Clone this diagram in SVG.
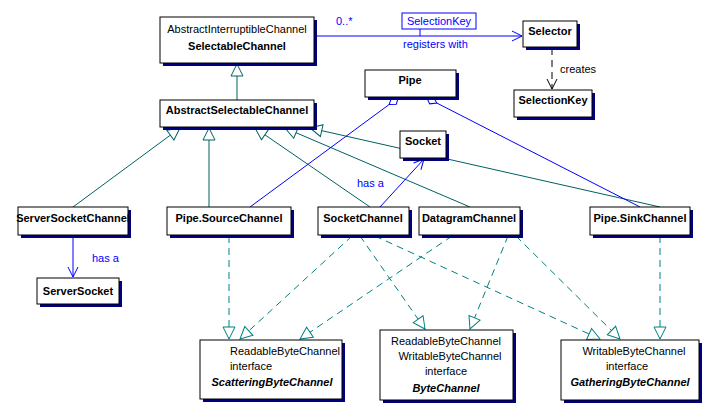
<svg xmlns="http://www.w3.org/2000/svg" width="712" height="419" viewBox="0 0 712 419">
<style>
text{font-family:"Liberation Sans",Arial,sans-serif;font-size:11px;fill:#000}
.b{font-weight:bold}.bi{font-weight:bold;font-style:italic}
.box{fill:#fff;stroke:#000;stroke-width:1}
.sh{fill:#000080}
.g{stroke:#006060;fill:none}
.r{stroke:#008080;fill:none;stroke-dasharray:7,5}
.a{stroke:#0000ff;fill:none}
.bl{fill:#0000ff}
</style>
<defs>
<marker id="tri" markerWidth="14" markerHeight="14" refX="13" refY="7" orient="auto" markerUnits="userSpaceOnUse"><path d="M1,1 L13,7 L1,13 Z" fill="#fff" stroke="#006060"/></marker>
<marker id="trid" markerWidth="14" markerHeight="14" refX="13" refY="7" orient="auto" markerUnits="userSpaceOnUse"><path d="M1,1 L13,7 L1,13 Z" fill="#fff" stroke="#008080"/></marker>
<marker id="opb" markerWidth="12" markerHeight="12" refX="11" refY="6" orient="auto" markerUnits="userSpaceOnUse"><path d="M1,1 L11,6 L1,11" fill="none" stroke="#0000ff"/></marker>
<marker id="opk" markerWidth="12" markerHeight="12" refX="11" refY="6" orient="auto" markerUnits="userSpaceOnUse"><path d="M1,1 L11,6 L1,11" fill="none" stroke="#000"/></marker>
<marker id="dia" markerWidth="14" markerHeight="10" refX="1" refY="5" orient="auto" markerUnits="userSpaceOnUse"><path d="M1,5 L6,1 L12,5 L6,9 Z" fill="#fff" stroke="#0000ff"/></marker>
</defs>
<g id="connectors">
<path class="g" d="M237,100 V64" marker-end="url(#tri)"/>
<path class="g" d="M73,207 L180,128" marker-end="url(#tri)"/>
<path class="g" d="M209,207 V128" marker-end="url(#tri)"/>
<path class="g" d="M370,207 L255,128" marker-end="url(#tri)"/>
<path class="g" d="M470,207 L285,128" marker-end="url(#tri)"/>
<path class="g" d="M660,207 L310,128" marker-end="url(#tri)"/>
<path class="r" d="M229,236 V339" marker-end="url(#trid)"/>
<path class="r" d="M352,236 L240,339" marker-end="url(#trid)"/>
<path class="r" d="M360,236 L425,329" marker-end="url(#trid)"/>
<path class="r" d="M375,236 L600,339" marker-end="url(#trid)"/>
<path class="r" d="M452,236 L300,339" marker-end="url(#trid)"/>
<path class="r" d="M508,236 L470,329" marker-end="url(#trid)"/>
<path class="r" d="M516,236 L620,339" marker-end="url(#trid)"/>
<path class="r" d="M660,236 V339" marker-end="url(#trid)"/>
<path class="a" d="M398,98 L250,207" marker-start="url(#dia)"/>
<path class="a" d="M427,98 L640,207" marker-start="url(#dia)"/>
<path class="a" d="M380,207 L424,159" marker-end="url(#opb)"/>
<text x="357" y="187" class="bl">has a</text>
<path class="a" d="M73,236 V277" marker-end="url(#opb)"/>
<text x="92" y="262" class="bl">has a</text>
<path class="a" d="M315,36 H522" marker-end="url(#opb)"/>
<text x="336" y="25" class="bl">0..*</text>
<path class="a" d="M420,29 V36"/>
<rect x="402" y="13" width="74" height="16" fill="#fff" stroke="#0000ff"/>
<text x="439" y="25" class="bl" text-anchor="middle">SelectionKey</text>
<text x="403" y="48" class="bl">registers with</text>
<path d="M552,48 V89" stroke="#000" stroke-dasharray="7,5" fill="none" marker-end="url(#opk)"/>
<text x="560" y="73">creates</text>
</g>
<g id="SelectableChannel"><rect class="sh" x="163" y="20" width="154" height="46"/><rect class="box" x="160" y="17" width="154" height="46"/><text x="237" y="33" text-anchor="middle">AbstractInterruptibleChannel</text><text x="237" y="50" text-anchor="middle" class="b">SelectableChannel</text></g>
<g id="Selector"><rect class="sh" x="526" y="24" width="54" height="26"/><rect class="box" x="523" y="21" width="54" height="26"/><text x="550" y="35" text-anchor="middle" class="b">Selector</text></g>
<g id="SelectionKey"><rect class="sh" x="517" y="93" width="78" height="27"/><rect class="box" x="514" y="90" width="78" height="27"/><text x="553" y="104" text-anchor="middle" class="b">SelectionKey</text></g>
<g id="Pipe"><rect class="sh" x="368" y="73" width="91" height="27"/><rect class="box" x="365" y="70" width="91" height="27"/><text x="410" y="84" text-anchor="middle" class="b">Pipe</text></g>
<g id="AbstractSelectableChannel"><rect class="sh" x="163" y="103" width="154" height="27"/><rect class="box" x="160" y="100" width="154" height="27"/><text x="237" y="114" text-anchor="middle" class="b">AbstractSelectableChannel</text></g>
<g id="Socket"><rect class="sh" x="403" y="134" width="46" height="27"/><rect class="box" x="400" y="131" width="46" height="27"/><text x="423" y="145" text-anchor="middle" class="b">Socket</text></g>
<g id="ServerSocketChannel"><rect class="sh" x="21" y="210" width="110" height="28"/><rect class="box" x="18" y="207" width="110" height="28"/><text x="73" y="222" text-anchor="middle" class="b">ServerSocketChannel</text></g>
<g id="PipeSourceChannel"><rect class="sh" x="170" y="210" width="124" height="28"/><rect class="box" x="167" y="207" width="124" height="28"/><text x="229" y="222" text-anchor="middle" class="b">Pipe.SourceChannel</text></g>
<g id="SocketChannel"><rect class="sh" x="321" y="210" width="91" height="28"/><rect class="box" x="318" y="207" width="91" height="28"/><text x="363" y="222" text-anchor="middle" class="b">SocketChannel</text></g>
<g id="DatagramChannel"><rect class="sh" x="422" y="210" width="101" height="28"/><rect class="box" x="419" y="207" width="101" height="28"/><text x="469" y="222" text-anchor="middle" class="b">DatagramChannel</text></g>
<g id="PipeSinkChannel"><rect class="sh" x="593" y="210" width="100" height="28"/><rect class="box" x="590" y="207" width="100" height="28"/><text x="640" y="222" text-anchor="middle" class="b">Pipe.SinkChannel</text></g>
<g id="ServerSocket"><rect class="sh" x="40" y="281" width="82" height="26"/><rect class="box" x="37" y="278" width="82" height="26"/><text x="78" y="295" text-anchor="middle" class="b">ServerSocket</text></g>
<g id="ScatteringByteChannel"><rect class="sh" x="203" y="343" width="142" height="59"/><rect class="box" x="200" y="340" width="142" height="59"/><text x="285" y="355" text-anchor="middle">ReadableByteChannel</text><text x="251" y="370" text-anchor="middle">interface</text><text x="272" y="386" text-anchor="middle" class="bi">ScatteringByteChannel</text></g>
<g id="ByteChannel"><rect class="sh" x="383" y="333" width="133" height="70"/><rect class="box" x="380" y="330" width="133" height="70"/><text x="446" y="345" text-anchor="middle">ReadableByteChannel</text><text x="450" y="360" text-anchor="middle">WritableByteChannel</text><text x="446" y="375" text-anchor="middle">interface</text><text x="446" y="392" text-anchor="middle" class="bi">ByteChannel</text></g>
<g id="GatheringByteChannel"><rect class="sh" x="564" y="343" width="138" height="60"/><rect class="box" x="561" y="340" width="138" height="60"/><text x="634" y="355" text-anchor="middle">WritableByteChannel</text><text x="627" y="370" text-anchor="middle">interface</text><text x="630" y="386" text-anchor="middle" class="bi">GatheringByteChannel</text></g>
</svg>
